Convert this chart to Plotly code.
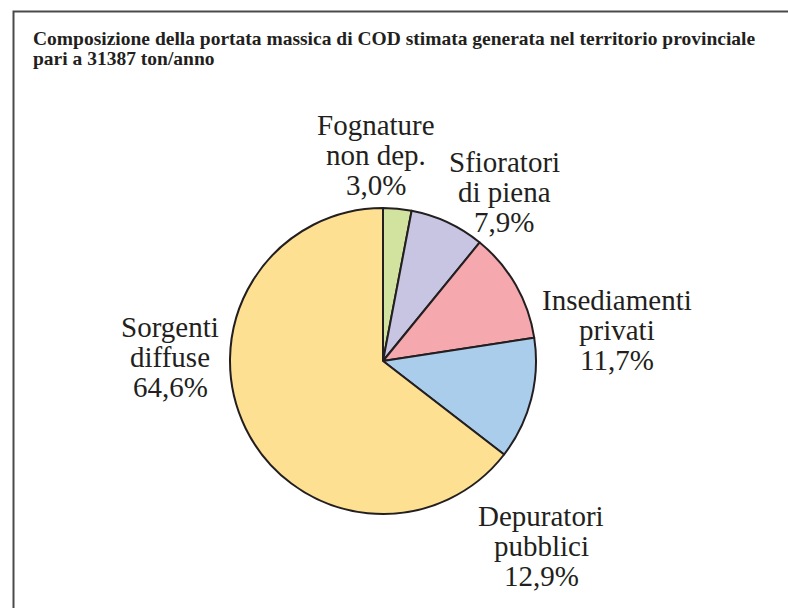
import plotly.graph_objects as go

# ---- data ----
categories = ["Fognature<br>non dep.", "Sfioratori<br>di piena", "Insediamenti<br>privati",
              "Depuratori<br>pubblici", "Sorgenti<br>diffuse"]
values = [3.0, 7.9, 11.7, 12.9, 64.6]
colors = ["#d2e39f", "#c8c5e3", "#f5a9ae", "#abcdec", "#fee092"]
title_lines = ["Composizione della portata massica di COD stimata generata nel territorio provinciale",
               "pari a 31387 ton/anno"]

# ---- layout (pixel centres of label blocks) ----
W, H = 788, 608
label_pos = [(376, 155), (504, 192), (617, 330), (541, 546), (170, 357)]
line_gap = 30
cx, cy, r = 383, 361, 153

fig = go.Figure()
fig.add_trace(go.Pie(
    labels=[c.replace("<br>", " ") for c in categories],
    values=values,
    sort=False,
    direction="clockwise",
    rotation=0,
    textinfo="none",
    marker=dict(colors=colors, line=dict(color="#231f20", width=2)),
    domain=dict(x=[(cx - r) / W, (cx + r) / W], y=[1 - (cy + r) / H, 1 - (cy - r) / H]),
    showlegend=False,
))

ink = "#231f20"
serif = "Liberation Serif"
annotations = []
for cat, v, (px, py) in zip(categories, values, label_pos):
    lines = cat.split("<br>") + [f"{v:.1f}".replace(".", ",") + "%"]
    n = len(lines)
    for i, ln in enumerate(lines):
        yy = py + (i - (n - 1) / 2) * line_gap
        annotations.append(dict(
            x=px / W, y=1 - yy / H, xref="paper", yref="paper",
            text=ln, showarrow=False, xanchor="center", yanchor="middle",
            font=dict(family=serif, size=29, color=ink),
        ))

for i, t in enumerate(title_lines):
    annotations.append(dict(
        x=31 / W, y=1 - (38 + i * 20) / H, xref="paper", yref="paper",
        text=f"<b>{t}</b>", showarrow=False, xanchor="left", yanchor="middle",
        font=dict(family=serif, size=19.5, color=ink),
    ))

fig.update_layout(
    width=W, height=H,
    margin=dict(l=0, r=0, t=0, b=0),
    paper_bgcolor="white", plot_bgcolor="white",
    annotations=annotations,
    shapes=[dict(type="rect", xref="paper", yref="paper",
                 x0=13.5 / W, x1=1.05, y0=-0.05, y1=1 - 11.5 / H,
                 line=dict(color="#4a4a4a", width=2))],
)

fig.write_html("out.html")
